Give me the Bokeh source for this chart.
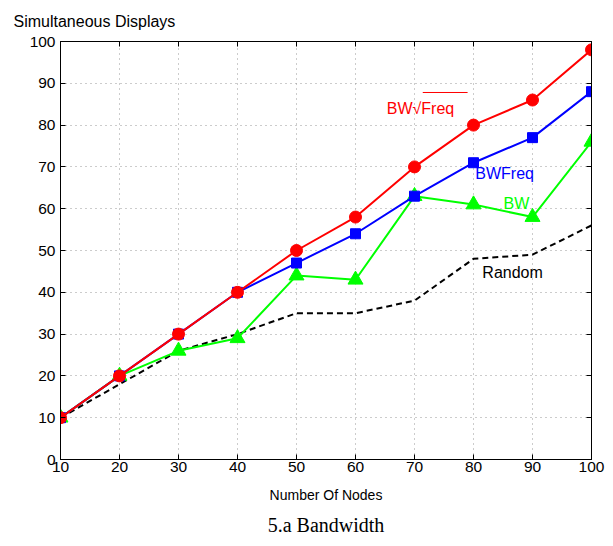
from bokeh.plotting import figure
from bokeh.models import (LinearAxis, Range1d, FixedTicker, Label, Title, Segment,
                          ColumnDataSource)
from bokeh.embed import file_html
from bokeh.resources import INLINE

# Simultaneous displays versus number of nodes, per placement strategy
nodes = [10, 20, 30, 40, 50, 60, 70, 80, 90, 100]
bw_sqrt_freq = [10, 20, 30, 40, 50, 58, 70, 80, 86, 98]
bw_freq = [10, 20, 30, 40, 47, 54, 63, 71, 77, 88]
bw = [10, 20, 26, 29, 44, 43, 63, 61, 58, 76]
random_sel = [10, 18, 26, 30, 35, 35, 38, 48, 49, 56]

x_ticks = [10, 20, 30, 40, 50, 60, 70, 80, 90, 100]
y_ticks = [0, 10, 20, 30, 40, 50, 60, 70, 80, 90, 100]

FONT = "Liberation Sans"

p = figure(width=613, height=546, output_backend="svg", toolbar_location=None,
           x_range=Range1d(10, 100), y_range=Range1d(0, 100),
           min_border_left=60, min_border_right=22, min_border_top=41,
           min_border_bottom=87, background_fill_color="white",
           border_fill_color="white")

p.title.text = "Simultaneous Displays"
p.title.text_font = FONT
p.title.text_font_size = "16px"
p.title.text_font_style = "normal"
p.title.text_color = "black"
p.title.text_line_height = 0.6
p.title.vertical_align = "top"
p.title.offset = -47
p.title.standoff = 20

p.outline_line_color = "black"
p.outline_line_width = 1

for ax in p.xaxis + p.yaxis:
    ax.major_tick_in = 5
    ax.major_tick_out = 0
    ax.minor_tick_line_color = None
    ax.axis_line_color = "black"
    ax.major_label_text_font = FONT
    ax.major_label_text_font_size = "15.5px"
    ax.major_label_text_color = "black"
p.xaxis.ticker = FixedTicker(ticks=x_ticks)
p.yaxis.ticker = FixedTicker(ticks=y_ticks)
p.xaxis.major_label_standoff = 2
p.yaxis.major_label_standoff = 5
p.xaxis.axis_label = "Number Of Nodes"
p.xaxis.axis_label_text_font = FONT
p.xaxis.axis_label_text_font_size = "14px"
p.xaxis.axis_label_text_font_style = "normal"
p.xaxis.axis_label_text_color = "black"
p.xaxis.axis_label_standoff = 12

# mirrored ticks on the top and right sides
top = LinearAxis(ticker=FixedTicker(ticks=x_ticks), major_label_text_font_size="0px",
                 major_label_standoff=0, major_tick_in=5, major_tick_out=0,
                 minor_tick_line_color=None)
right = LinearAxis(ticker=FixedTicker(ticks=y_ticks), major_label_text_font_size="0px",
                   major_label_standoff=0, major_tick_in=5, major_tick_out=0,
                   minor_tick_line_color=None)
p.add_layout(top, "above")
p.add_layout(right, "right")

p.grid.grid_line_color = "#999999"
p.grid.grid_line_dash = "1 4"
p.grid.grid_line_width = 1
p.xgrid.ticker = FixedTicker(ticks=x_ticks)
p.ygrid.ticker = FixedTicker(ticks=y_ticks)

caption = Title(text="5.a Bandwidth", align="center", text_font="Liberation Serif",
                text_font_size="20px", text_font_style="normal", text_color="black",
                standoff=12)
p.add_layout(caption, "below")

p.line(nodes, random_sel, line_color="black", line_width=2, line_dash="6 4")
p.line(nodes, bw, line_color="#00ff00", line_width=2)
p.scatter(nodes, bw, marker="triangle", size=15, fill_color="#00ff00",
          line_color="#00ff00")
p.line(nodes, bw_freq, line_color="#0000ff", line_width=2)
p.scatter(nodes, bw_freq, marker="square", size=10, fill_color="#0000ff",
          line_color="#0000ff")
p.line(nodes, bw_sqrt_freq, line_color="#ff0000", line_width=2)
p.scatter(nodes, bw_sqrt_freq, marker="circle", size=12, fill_color="#ff0000",
          line_color="#ff0000")

def tag(x, y, text, color):
    p.add_layout(Label(x=x, y=y, text=text, text_color=color, text_font=FONT,
                       text_font_size="16px", text_baseline="middle",
                       text_align="left"))

tag(65.3, 84.0, "BW\u221aFreq", "#ff0000")
tag(80.3, 68.4, "BWFreq", "#0000ff")
tag(85.1, 61.2, "BW", "#00ff00")
tag(81.5, 44.7, "Random", "black")

# radical bar over "Freq"
bar = ColumnDataSource(dict(x0=[71.4], y0=[87.8], x1=[79.0], y1=[87.8]))
p.add_glyph(bar, Segment(x0="x0", y0="y0", x1="x1", y1="y1",
                         line_color="#ff0000", line_width=1))

open("out.html", "w").write(file_html(p, INLINE))
